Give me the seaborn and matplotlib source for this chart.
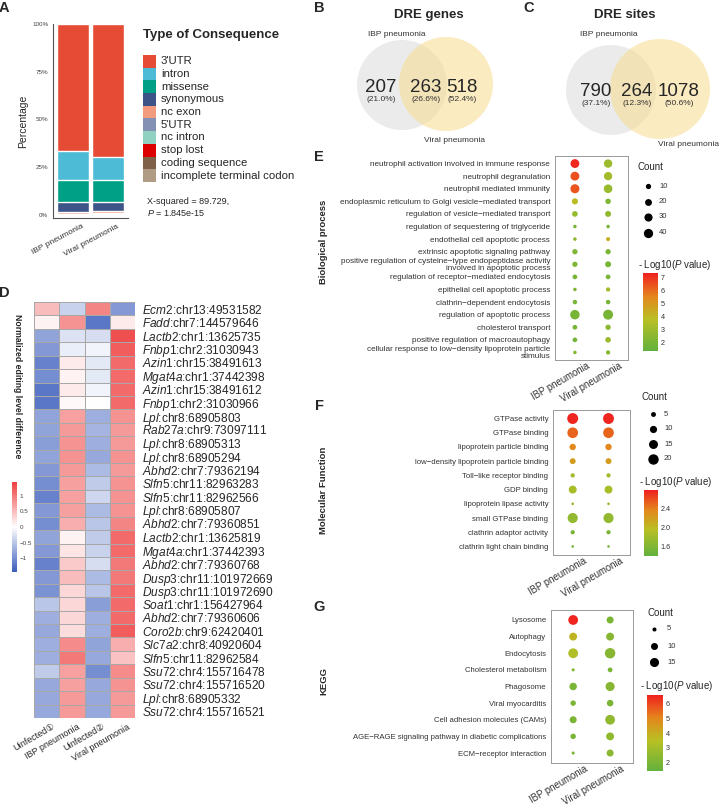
import numpy as np
import pandas as pd
import matplotlib
matplotlib.use("Agg")
import matplotlib.pyplot as plt
import seaborn as sns
from matplotlib.colors import LinearSegmentedColormap, Normalize
from matplotlib.patches import Circle, Rectangle
from matplotlib.cm import ScalarMappable
from matplotlib.transforms import ScaledTranslation

sns.set_style("white")
plt.rcParams['font.family'] = ['Liberation Sans', 'DejaVu Sans']
plt.rcParams['mathtext.fontset'] = 'custom'
plt.rcParams['mathtext.rm'] = 'Liberation Sans'
plt.rcParams['mathtext.it'] = 'Liberation Sans:italic'
plt.rcParams['mathtext.bf'] = 'Liberation Sans:bold'

# ---------------- data ----------------
groups = ["IBP pneumonia", "Viral pneumonia"]

# A: type of consequence (percent, top of stack first)
consequences = ["3'UTR", "intron", "missense", "synonymous", "nc exon", "5'UTR",
                "nc intron", "stop lost", "coding sequence", "incomplete terminal codon"]
conseq_colors = ["#E64B35", "#4DBBD5", "#00A087", "#3C5488", "#F39B7F", "#8491B4",
                 "#91D1C2", "#DC0000", "#7E6148", "#B09C85"]
ibp_pct = [66.4, 15.2, 11.8, 4.9, 1.0, 0.4, 0.2, 0.05, 0.02, 0.03]
viral_pct = [69.8, 11.8, 11.8, 4.5, 1.2, 0.6, 0.2, 0.05, 0.03, 0.02]

# B / C: venn
gene_counts = [207, 263, 518]
gene_pcts = ["(21.0%)", "(26.6%)", "(52.4%)"]
site_counts = [790, 264, 1078]
site_pcts = ["(37.1%)", "(12.3%)", "(50.6%)"]

# D: heatmap
hm_genes = ["Ecm2", "Fadd", "Lactb2", "Fnbp1", "Azin1", "Mgat4a", "Azin1", "Fnbp1", "Lpl",
            "Rab27a", "Lpl", "Lpl", "Abhd2", "Slfn5", "Slfn5", "Lpl", "Abhd2", "Lactb2",
            "Mgat4a", "Abhd2", "Dusp3", "Dusp3", "Soat1", "Abhd2", "Coro2b", "Slc7a2",
            "Slfn5", "Ssu72", "Ssu72", "Lpl", "Ssu72"]
hm_sites = ["chr13:49531582", "chr7:144579646", "chr1:13625735", "chr2:31030943",
            "chr15:38491613", "chr1:37442398", "chr15:38491612", "chr2:31030966",
            "chr8:68905803", "chr9:73097111", "chr8:68905313", "chr8:68905294",
            "chr7:79362194", "chr11:82963283", "chr11:82962566", "chr8:68905807",
            "chr7:79360851", "chr1:13625819", "chr1:37442393", "chr7:79360768",
            "chr11:101972669", "chr11:101972690", "chr1:156427964", "chr7:79360606",
            "chr9:62420401", "chr8:40920604", "chr11:82962584", "chr4:155716478",
            "chr4:155716520", "chr8:68905332", "chr4:155716521"]
hm_cols = ["Uinfected\u2460", "IBP pneumonia", "Uinfected\u2461", "Viral pneumonia"]
uninf1 = [0.5, 0.1, -0.8, -0.9, -1.1, -1.0, -1.2, -1.2, -0.8, -0.8, -0.85, -0.8, -0.9, -1.0,
          -1.1, -0.9, -1.0, -0.8, -0.9, -1.1, -0.9, -0.95, -0.5, -0.7, -0.75, -0.7, -0.7,
          -0.45, -0.75, -0.75, -0.75]
ibp_val = [-0.4, 0.8, -0.25, -0.15, 0.15, 0.1, 0.15, 0.05, 0.7, 0.75, 0.8, 0.8, 0.75, 0.7,
           0.7, 0.7, 0.6, 0.1, 0.2, 0.4, 0.5, 0.3, 0.3, 0.3, 0.25, 0.85, 1.0, 0.7, 0.7,
           0.75, 0.75]
uninf2 = [0.9, -1.2, -0.3, -0.1, -0.2, -0.2, -0.1, 0.0, -0.7, -0.65, -0.7, -0.75, -0.6,
          -0.45, -0.35, -0.6, -0.5, -0.45, -0.4, -0.3, -0.6, -0.5, -0.85, -0.7, -0.7, -0.8,
          -0.75, -1.0, -0.75, -0.75, -0.75]
viral_val = [-0.9, 0.15, 1.3, 1.2, 1.1, 1.1, 1.1, 1.1, 0.8, 0.75, 0.75, 0.8, 0.75, 0.8, 0.8,
             0.8, 0.9, 1.1, 1.1, 1.0, 1.0, 1.1, 1.1, 1.1, 1.2, 0.6, 0.45, 0.85, 0.8, 0.75,
             0.75]

# E: GO biological process
bp_terms = ["neutrophil activation involved in immune response", "neutrophil degranulation",
            "neutrophil mediated immunity",
            "endoplasmic reticulum to Golgi vesicle\u2212mediated transport",
            "regulation of vesicle\u2212mediated transport",
            "regulation of sequestering of triglyceride", "endothelial cell apoptotic process",
            "extrinsic apoptotic signaling pathway",
            "positive regulation of cysteine\u2212type endopeptidase activity\ninvolved in apoptotic process",
            "regulation of receptor\u2212mediated endocytosis", "epithelial cell apoptotic process",
            "clathrin\u2212dependent endocytosis", "regulation of apoptotic process",
            "cholesterol transport", "positive regulation of macroautophagy",
            "cellular response to low\u2212density lipoprotein particle\nstimulus"]
bp_ibp_count = [36, 36, 38, 15, 12, 2, 2, 10, 10, 7, 2, 6, 42, 7, 7, 2]
bp_ibp_logp = [7.2, 6.5, 6.4, 3.9, 2.8, 2.1, 2.5, 2.2, 2.2, 2.0, 2.2, 2.0, 2.0, 2.0, 1.9, 2.3]
bp_vir_count = [32, 31, 34, 11, 14, 2, 4, 10, 14, 7, 5, 6, 47, 10, 12, 5]
bp_vir_logp = [3.0, 3.1, 2.9, 2.2, 2.7, 2.0, 4.3, 2.1, 2.0, 2.0, 3.2, 1.9, 2.0, 2.5, 3.0, 2.4]

# F: GO molecular function
mf_terms = ["GTPase activity", "GTPase binding", "lipoprotein particle binding",
            "low\u2212density lipoprotein particle binding", "Toll\u2212like receptor binding",
            "GDP binding", "lipoprotein lipase activity", "small GTPase binding",
            "clathrin adaptor activity", "clathrin light chain binding"]
mf_ibp_count = [22, 21, 8, 7, 4, 12, 2, 19, 4, 2]
mf_ibp_logp = [2.75, 2.5, 2.35, 2.2, 1.8, 1.85, 1.7, 1.7, 1.55, 1.5]
mf_vir_count = [22, 21, 8, 7, 4, 12, 2, 19, 4, 2]
mf_vir_logp = [2.75, 2.5, 2.35, 2.2, 1.8, 1.85, 1.7, 1.7, 1.55, 1.5]

# G: KEGG
kegg_terms = ["Lysosome", "Autophagy", "Endocytosis", "Cholesterol metabolism", "Phagosome",
              "Viral myocarditis", "Cell adhesion molecules (CAMs)",
              "AGE\u2212RAGE signaling pathway in diabetic complications",
              "ECM\u2212receptor interaction"]
kegg_ibp_count = [17, 12, 17, 4, 11, 7, 10, 7, 4]
kegg_ibp_logp = [6.5, 3.8, 3.3, 2.2, 2.0, 2.0, 2.0, 1.9, 2.0]
kegg_vir_count = [10, 12, 19, 6, 15, 9, 17, 12, 10]
kegg_vir_logp = [2.0, 2.3, 2.3, 2.0, 2.3, 2.0, 2.5, 2.5, 2.4]

# ---------------- figure ----------------
W, H = 720, 808
fig = plt.figure(figsize=(W / 100, H / 100), dpi=100)


def px_axes(x0, y0, x1, y1):
    return fig.add_axes([x0 / W, 1 - y1 / H, (x1 - x0) / W, (y1 - y0) / H])


def shift_labels(labels, dx, dy):
    # nudge rotated tick labels like ggplot's hjust/vjust placement (pixels, +dy = down)
    off = ScaledTranslation(dx / 100, -dy / 100, fig.dpi_scale_trans)
    for t in labels:
        t.set_transform(t.get_transform() + off)


ov = px_axes(0, 0, W, H)
ov.set_xlim(0, W)
ov.set_ylim(H, 0)
ov.axis("off")

for lab, x, y in [("A", 4, 8), ("B", 319, 8), ("C", 529, 8), ("D", 4, 293),
                  ("E", 319, 157), ("F", 319, 406), ("G", 319, 607)]:
    ov.text(x, y, lab, fontsize=10.5, weight="bold", ha="center", va="center")

# ---- A: stacked bars ----
ax = px_axes(53, 24, 128, 218)
for i, col in enumerate(conseq_colors):
    heights = [sum(ibp_pct[i:]), sum(viral_pct[i:])]
    sns.barplot(x=groups, y=heights, color=col, width=0.91, errorbar=None,
                saturation=1, ax=ax)
ax.set_xlim(-0.57, 1.57)
ax.set_ylim(-1.6, 100)
ax.set_yticks([0, 25, 50, 75, 100])
ax.set_yticklabels(["0%", "25%", "50%", "75%", "100%"], fontsize=4.5, color="#444")
ax.set_xticks([0, 1])
ax.set_xticklabels(groups, rotation=28, ha="right", rotation_mode="anchor",
                   fontsize=6, color="#333")
ax.set_ylabel("Percentage", fontsize=7.5, labelpad=3)
for s in ["top", "right"]:
    ax.spines[s].set_visible(False)
for s in ["left", "bottom"]:
    ax.spines[s].set_color("#555")
    ax.spines[s].set_linewidth(0.8)
ax.tick_params(length=2, color="#555", pad=1.5)
shift_labels(ax.get_xticklabels(), 9, 0)

ov.text(143, 35, "Type of Consequence", fontsize=9.5, weight="bold", va="center")
for i, (lab, col) in enumerate(zip(consequences, conseq_colors)):
    yc = 61.3 + 12.7 * i
    ov.add_patch(Rectangle((143, yc - 6.35), 13, 12.7, fc=col, ec="none"))
    ov.text(161, yc, lab, fontsize=8.2, va="center")
ov.text(147, 202, "X-squared = 89.729,", fontsize=6.5, va="center")
ov.text(147, 213, "$P$ = 1.845e-15", fontsize=6.5, va="center")

# ---- B / C: venn ----
def venn(c1, r1, c2, r2, counts, pcts, xs, ynum, title, tx, l1, l2):
    ov.add_patch(Circle(c1, r1, fc="#dedede", alpha=0.6, ec="none", zorder=1))
    ov.add_patch(Circle(c2, r2, fc="#f8dc8e", alpha=0.55, ec="none", zorder=2))
    for x, n, p in zip(xs, counts, pcts):
        ov.text(x, ynum, str(n), fontsize=13.5, ha="center", va="center", zorder=3)
        ov.text(x, ynum + 12.5, p, fontsize=6, ha="center", va="center", color="#333", zorder=3)
    ov.text(tx, 15, title, fontsize=9.5, weight="bold", ha="center", va="center")
    ov.text(l1[0], l1[1], "IBP pneumonia", fontsize=6, va="center", color="#333")
    ov.text(l2[0], l2[1], "Viral pneumonia", fontsize=6, va="center", color="#333")


venn((402, 85), 45, (446, 84), 47, gene_counts, gene_pcts, [381, 426, 462], 87,
     "DRE genes", 429, (368, 35), (424, 140))
venn((611, 90), 45, (660, 89), 50, site_counts, site_pcts, [596, 637, 679], 91,
     "DRE sites", 625, (580, 35), (658, 144))

# ---- D: heatmap ----
hm = pd.DataFrame({hm_cols[0]: uninf1, hm_cols[1]: ibp_val,
                   hm_cols[2]: uninf2, hm_cols[3]: viral_val})
row_labels = [f"$\\mathit{{{g}}}$:{s}" for g, s in zip(hm_genes, hm_sites)]
hm_cmap = LinearSegmentedColormap.from_list("bwr2", ["#3a5cbd", "#ffffff", "#ee3e3e"])
axh = px_axes(34, 302, 135, 718)
caxh = px_axes(12, 482, 17, 572)
sns.heatmap(hm, ax=axh, cmap=hm_cmap, vmin=-1.43, vmax=1.43, cbar_ax=caxh,
            linewidths=0.5, linecolor="#a8a8a8", xticklabels=hm_cols, yticklabels=row_labels)
axh.yaxis.tick_right()
axh.set_yticks(np.arange(len(row_labels)) + 0.5)
axh.set_yticklabels(row_labels, rotation=0, fontsize=8.6, family=['Liberation Sans', 'DejaVu Sans'])
axh.set_xticklabels(hm_cols, rotation=30, ha="right", rotation_mode="anchor", fontsize=6.5,
                    family=['Liberation Sans', 'DejaVu Sans'])
axh.tick_params(length=0, pad=5)
axh.tick_params(axis="x", pad=3)
shift_labels(axh.get_xticklabels(), 5, 0)
cbh = axh.collections[0].colorbar
cbh.outline.set_visible(False)
cbh.set_ticks([-1, -0.5, 0, 0.5, 1])
cbh.set_ticklabels(["\u22121", "\u22120.5", "0", "0.5", "1"])
caxh.tick_params(labelsize=4.5, length=0, pad=2, colors="#444")
ov.text(17, 386, "Normalized editing level difference", fontsize=6.2, weight="bold",
        rotation=-90, ha="center", va="center")

# ---- E/F/G: dot plots ----
dot_cmap = LinearSegmentedColormap.from_list(
    "gyr", [(0, "#62b13d"), (0.4, "#b8c024"), (0.7, "#e4861c"), (1, "#f01f1f")])


def dot_panel(box, xlim, terms, ic, ip, vc, vp, vlim, size_norm, sizes, fs=5.6):
    ax = px_axes(*box)
    n = len(terms)
    df = pd.DataFrame({"grp": [0] * n + [1] * n, "row": list(range(n)) * 2,
                       "count": ic + vc, "logp": ip + vp})
    sns.scatterplot(data=df, x="grp", y="row", size="count", sizes=sizes, size_norm=size_norm,
                    hue="logp", palette=dot_cmap, hue_norm=vlim, legend=False, linewidth=0,
                    ax=ax)
    ax.set_xlim(*xlim)
    ax.set_ylim(n - 1 + 0.6, -0.6)
    ax.set_yticks(range(n))
    ax.set_yticklabels(terms, fontsize=fs, color="#333", linespacing=0.95)
    ax.set_xticks([0, 1])
    ax.set_xticklabels(groups, rotation=30, ha="right", rotation_mode="anchor",
                       fontsize=6.9, color="#333")
    ax.set_xlabel("")
    ax.set_ylabel("")
    for s in ax.spines.values():
        s.set_color("#999")
        s.set_linewidth(0.7)
    ax.tick_params(length=2, color="#777", pad=1.5)
    shift_labels(ax.get_xticklabels(), 11, -4)
    return ax


def dot_legends(vals, size_norm, sizes, cx, title_xy, ys, lx, vlim, cbox, ticks, tlabels, ctitle_xy):
    lo, hi = sizes
    ov.text(title_xy[0], title_xy[1], "Count", fontsize=7, va="center")
    for y, v in zip(ys, vals):
        s = lo + (v - size_norm[0]) / (size_norm[1] - size_norm[0]) * (hi - lo)
        ov.scatter(cx, y, s=s, color="black", lw=0)
        ov.text(lx, y, str(v), fontsize=5.5, va="center", color="#333")
    ov.text(ctitle_xy[0], ctitle_xy[1], "- Log10($P$ value)", fontsize=7, va="center")
    cax = px_axes(*cbox)
    cb = fig.colorbar(ScalarMappable(norm=Normalize(*vlim), cmap=dot_cmap), cax=cax)
    cb.outline.set_visible(False)
    cb.set_ticks(ticks)
    cb.set_ticklabels(tlabels)
    cax.tick_params(labelsize=5.2, length=2.5, color="white", direction="in", pad=2,
                    labelcolor="#333")


bp_vlim, bp_sn, bp_sz = (1.38, 7.38), (0, 50), (4.5, 54.5)
dot_panel((555, 156, 628, 360), (-0.6, 1.6), bp_terms, bp_ibp_count, bp_ibp_logp,
          bp_vir_count, bp_vir_logp, bp_vlim, bp_sn, bp_sz, fs=5.85)
dot_legends([10, 20, 30, 40], bp_sn, bp_sz, 648, (637, 167), [186, 201.5, 217, 232.5], 659,
            bp_vlim, (643, 273, 658, 351), [2, 3, 4, 5, 6, 7], ["2", "3", "4", "5", "6", "7"],
            (638, 265))

mf_vlim, mf_sn, mf_sz = (1.39, 2.78), (2, 23), (3.6, 64.8)
dot_panel((553, 410, 630, 555), (-0.55, 1.6), mf_terms, mf_ibp_count, mf_ibp_logp,
          mf_vir_count, mf_vir_logp, mf_vlim, mf_sn, mf_sz)
dot_legends([5, 10, 15, 20], mf_sn, mf_sz, 653, (642, 397), [414, 429, 444, 459], 664,
            mf_vlim, (644, 490, 658, 556), [1.6, 2.0, 2.4], ["1.6", "2.0", "2.4"], (639, 482))

kg_vlim, kg_sn, kg_sz = (1.38, 6.62), (4, 20), (5, 60)
dot_panel((551, 610, 633, 763), (-0.6, 1.62), kegg_terms, kegg_ibp_count, kegg_ibp_logp,
          kegg_vir_count, kegg_vir_logp, kg_vlim, kg_sn, kg_sz)
dot_legends([5, 10, 15], kg_sn, kg_sz, 654, (647, 613), [629, 646, 662], 667,
            kg_vlim, (647, 695, 663, 771), [2, 3, 4, 5, 6], ["2", "3", "4", "5", "6"], (640, 686))

for lab, y in [("Biological process", 242), ("Molecular Function", 490), ("KEGG", 681)]:
    ov.text(324, y, lab, fontsize=6.8, weight="bold", rotation=90, ha="center", va="center")

fig.savefig("out.png", dpi=100)
